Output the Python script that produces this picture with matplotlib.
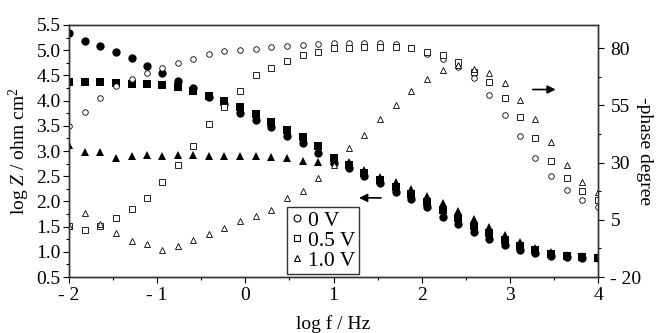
import matplotlib
matplotlib.use("Agg")
import matplotlib.pyplot as plt
from matplotlib.lines import Line2D
from matplotlib.ticker import MultipleLocator, FixedLocator

plt.rcParams['font.family'] = ['Liberation Serif', 'DejaVu Serif']
plt.rcParams['mathtext.fontset'] = 'custom'
plt.rcParams['mathtext.rm'] = 'Liberation Serif'
plt.rcParams['mathtext.it'] = 'Liberation Serif:italic'

# log frequency (Hz)
logf = [-2.00, -1.82, -1.65, -1.47, -1.29, -1.12, -0.94, -0.76, -0.59, -0.41,
        -0.24, -0.06, 0.12, 0.29, 0.47, 0.65, 0.82, 1.00, 1.18, 1.35,
        1.53, 1.71, 1.88, 2.06, 2.24, 2.41, 2.59, 2.76, 2.94, 3.12,
        3.29, 3.47, 3.65, 3.82, 4.00]

# log |Z| (filled markers, left axis)
mag_0V = [5.34, 5.19, 5.09, 4.96, 4.84, 4.69, 4.55, 4.39, 4.25, 4.08,
          3.93, 3.76, 3.62, 3.47, 3.29, 3.15, 2.96, 2.76, 2.66, 2.51,
          2.36, 2.19, 2.05, 1.88, 1.70, 1.55, 1.39, 1.26, 1.13, 1.04,
          0.98, 0.92, 0.89, 0.87, 0.87]
mag_05V = [4.36, 4.36, 4.36, 4.34, 4.33, 4.32, 4.31, 4.26, 4.20, 4.10,
           4.00, 3.87, 3.73, 3.58, 3.42, 3.27, 3.10, 2.87, 2.73, 2.57,
           2.43, 2.29, 2.15, 1.99, 1.83, 1.68, 1.52, 1.38, 1.23, 1.12,
           1.03, 0.96, 0.91, 0.89, 0.88]
mag_10V = [3.12, 2.99, 2.99, 2.86, 2.91, 2.92, 2.91, 2.92, 2.92, 2.91,
           2.91, 2.91, 2.90, 2.89, 2.87, 2.81, 2.78, 2.80, 2.78, 2.63,
           2.49, 2.38, 2.25, 2.11, 1.96, 1.81, 1.65, 1.49, 1.33, 1.19,
           1.08, 0.99, 0.93, 0.91, 0.89]

# -phase (open markers, right axis)
phase_0V = [46.1, 52.3, 58.2, 63.5, 66.5, 69.1, 71.3, 73.7, 75.3, 77.4,
            78.8, 79.1, 79.7, 80.4, 81.1, 81.4, 81.7, 82.4, 82.4, 82.4,
            82.4, 81.7, 80.0, 77.5, 75.2, 72.0, 66.9, 59.6, 50.9, 41.7,
            32.0, 24.2, 18.1, 13.5, 10.7]
phase_05V = [2.1, 0.7, 2.1, 5.8, 9.7, 14.5, 21.5, 29.0, 37.3, 46.9,
             54.2, 61.5, 68.3, 71.3, 74.5, 77.1, 78.3, 80.0, 80.3, 80.5,
             80.7, 80.7, 80.0, 78.5, 77.1, 74.2, 69.6, 65.4, 58.2, 49.9,
             40.7, 30.9, 23.2, 17.8, 13.8]
phase_10V = [2.4, 7.9, 3.3, -0.8, -4.1, -5.6, -8.4, -6.6, -3.7, -1.1,
             1.4, 4.3, 6.8, 9.4, 14.5, 17.4, 23.2, 29.0, 36.3, 42.1,
             49.0, 55.2, 61.5, 66.5, 70.5, 72.7, 70.8, 69.3, 64.7, 57.4,
             49.0, 39.2, 29.0, 21.7, 17.3]

labels = ['0 V', '0.5 V', '1.0 V']
markers = ['o', 's', '^']

xticks = [-2, -1, 0, 1, 2, 3, 4]
xticklabels = ['- 2', '- 1', '0', '1', '2', '3', '4']
y2ticks = [-20, 5, 30, 55, 80]
y2ticklabels = ['- 20', '5', '30', '55', '80']

fig = plt.figure(figsize=(6.58, 3.33), dpi=100)
ax = fig.add_axes([69 / 658, 1 - 277 / 333, 529 / 658, 252 / 333])
ax2 = ax.twinx()

fsize = 14

for mag, m, ms in zip([mag_0V, mag_05V, mag_10V], markers, [6.0, 5.6, 6.0]):
    ax.plot(logf, mag, linestyle='none', marker=m, ms=ms, color='black',
            markeredgewidth=0)

for ph, m, ms in zip([phase_0V, phase_05V, phase_10V], markers, [4.0, 4.0, 4.6]):
    ax2.plot(logf, ph, linestyle='none', marker=m, ms=ms, markerfacecolor='white',
             markeredgecolor='black', markeredgewidth=0.6)

ax.set_xlim(-2, 4)
ax.set_ylim(0.5, 5.5)
ax2.set_ylim(-20, 90.2)

ax.set_xticks(xticks)
ax.set_xticklabels(xticklabels)
ax.xaxis.set_minor_locator(MultipleLocator(0.5))
ax.yaxis.set_major_locator(MultipleLocator(0.5))
ax.yaxis.set_minor_locator(MultipleLocator(0.25))
ax.set_yticklabels([f"{v:.1f}" for v in ax.get_yticks()])
ax2.set_yticks(y2ticks)
ax2.set_yticklabels(y2ticklabels)
ax2.yaxis.set_minor_locator(FixedLocator([-7.5, 17.5, 42.5, 67.5]))

for a in (ax, ax2):
    a.tick_params(which='major', direction='out', length=4, width=0.8,
                  labelsize=fsize, pad=2)
    a.tick_params(which='minor', direction='out', length=2.5, width=0.8)
    for s in a.spines.values():
        s.set_linewidth(1.0)
        s.set_color('#333333')
ax.tick_params(axis='x', which='major', pad=3)
ax2.tick_params(which='major', pad=5)

ax.set_xlabel('log f / Hz', fontsize=fsize)
ax.set_ylabel(r'log $Z$ / ohm cm$^2$', fontsize=fsize)
ax2.set_ylabel('-phase degree', fontsize=fsize, rotation=270, va='center')
ax.xaxis.set_label_coords(0.5, -0.15)
ax.yaxis.set_label_coords(-0.07, 0.5)
ax2.yaxis.set_label_coords(1.087, 0.5)

# arrows pointing to the axis each data set belongs to
ax.annotate('', xy=(3.52, 4.22), xytext=(3.26, 4.22),
            arrowprops=dict(arrowstyle='-|>', color='black', lw=1.2,
                            mutation_scale=12, shrinkA=0, shrinkB=0))
ax.annotate('', xy=(1.29, 2.07), xytext=(1.54, 2.07),
            arrowprops=dict(arrowstyle='-|>', color='black', lw=1.2,
                            mutation_scale=12, shrinkA=0, shrinkB=0))

handles = [Line2D([], [], linestyle='none', marker=m, ms=5, markerfacecolor='white',
                  markeredgecolor='black', markeredgewidth=0.8) for m in markers]
leg = ax2.legend(handles, labels, loc='lower left', bbox_to_anchor=(0.413, 0.012),
                 fontsize=15.5, frameon=True, fancybox=False, handlelength=0.6,
                 handletextpad=0.2, labelspacing=0.0, borderpad=0.15,
                 borderaxespad=0)
leg.get_frame().set_edgecolor('black')
leg.get_frame().set_linewidth(1.0)

fig.savefig('out.png', dpi=100)
